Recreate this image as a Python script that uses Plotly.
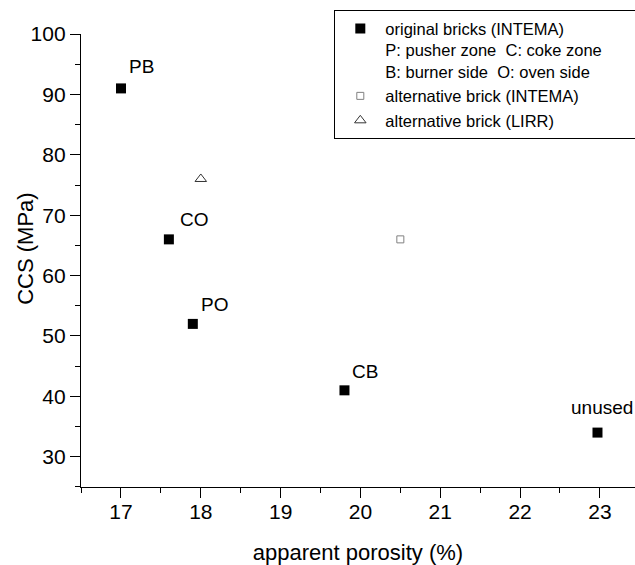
import plotly.graph_objects as go

# data
orig_labels = ["PB", "CO", "PO", "CB", "unused"]
orig_porosity = [17.0, 17.6, 17.9, 19.8, 22.97]
orig_ccs = [91, 66, 52, 41, 34]

alt_intema_porosity = [20.5]
alt_intema_ccs = [66]

alt_lirr_porosity = [18.0]
alt_lirr_ccs = [76]

x_ticks = [17, 18, 19, 20, 21, 22, 23]
y_ticks = [30, 40, 50, 60, 70, 80, 90, 100]

FONT = "Arial, Liberation Sans, sans-serif"
NB = "\u00a0"

fig = go.Figure()
fig.add_trace(go.Scatter(
    x=orig_porosity, y=orig_ccs, mode="markers",
    marker=dict(symbol="square", size=10, color="black"),
    name="original bricks (INTEMA)<br>P: pusher zone" + NB * 2 + "C: coke zone" + NB * 6
         + "<br>B: burner side" + NB * 2 + "O: oven side",
))
fig.add_trace(go.Scatter(
    x=alt_intema_porosity, y=alt_intema_ccs, mode="markers",
    marker=dict(symbol="square-open", size=7, color="#808080", line=dict(width=1)),
    name="alternative brick (INTEMA)",
))
fig.add_trace(go.Scatter(
    x=alt_lirr_porosity, y=alt_lirr_ccs, mode="markers",
    marker=dict(symbol="triangle-up-open", size=10, color="#333333", line=dict(width=1)),
    name="alternative brick (LIRR)",
))

# point labels
label_shift = {"PB": (6, 22, "left"), "CO": (9, 20, "left"), "PO": (6, 19, "left"),
               "CB": (6, 19, "left"), "unused": (5, 25, "center")}
for lab, xv, yv in zip(orig_labels, orig_porosity, orig_ccs):
    dx, dy, anc = label_shift[lab]
    fig.add_annotation(x=xv, y=yv, xref="x", yref="y", text=lab, showarrow=False,
                       xanchor=anc, yanchor="middle", xshift=dx, yshift=dy,
                       font=dict(family=FONT, size=19, color="black"))

# y title
fig.add_annotation(text="CCS (MPa)", xref="paper", yref="paper", x=-0.1, y=0.525,
                   xanchor="center", yanchor="middle", textangle=-90, showarrow=False,
                   font=dict(family=FONT, size=22, color="black"))

axis_common = dict(showline=True, linecolor="black", linewidth=1.3, ticks="outside",
                   ticklen=10, tickwidth=1.3, tickcolor="black", showgrid=False,
                   zeroline=False, tickfont=dict(family=FONT, size=21, color="black"))

fig.update_xaxes(range=[16.499, 23.44], tickvals=x_ticks, **axis_common,
                 ticklabelstandoff=-4,
                 minor=dict(ticks="outside", ticklen=5, tickwidth=1.3, tickcolor="black", dtick=0.5, tick0=16.5),
                 title=dict(text="apparent porosity (%)", font=dict(family=FONT, size=22, color="black"),
                            standoff=22))
fig.update_yaxes(range=[24.99, 100.01], tickvals=y_ticks, **axis_common,
                 minor=dict(ticks="outside", ticklen=5, tickwidth=1.3, tickcolor="black", dtick=5, tick0=25))

fig.update_layout(
    width=635, height=565,
    margin=dict(l=81, r=0, t=34, b=78, autoexpand=False),
    plot_bgcolor="white", paper_bgcolor="white",
    font=dict(family=FONT, color="black"),
    legend=dict(x=0.4567, y=1.053, xanchor="left", yanchor="top",
                bordercolor="black", borderwidth=1.3, bgcolor="white",
                font=dict(family=FONT, size=16.5, color="black"),
                valign="top", itemwidth=40, tracegroupgap=0),
    showlegend=True,
)

fig.write_html("out.html", config={"displayModeBar": False},
               post_script="document.body.style.margin='0';document.body.style.overflow='hidden';")
